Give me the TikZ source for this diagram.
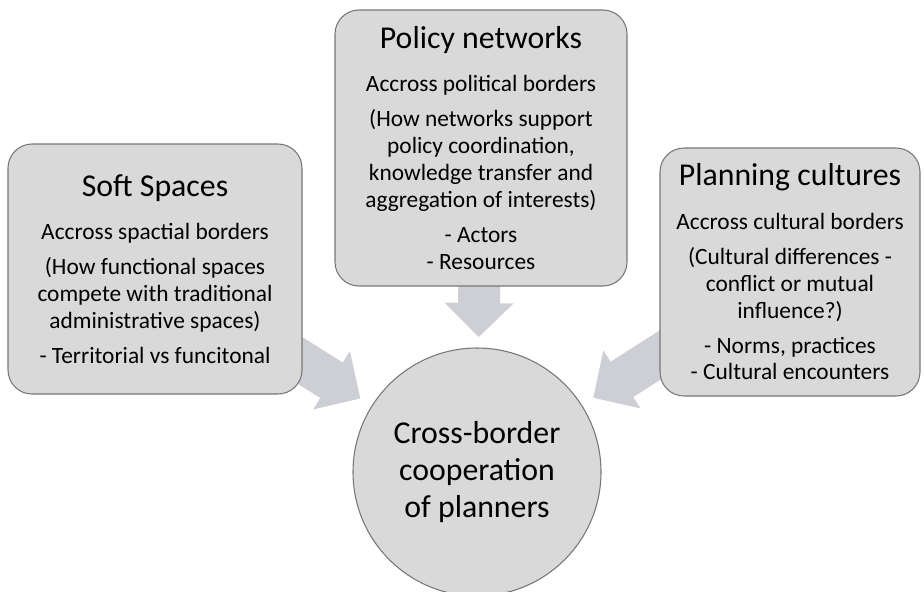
\documentclass[tikz,border=0pt]{standalone}
\usepackage{fontspec}
\setmainfont{Carlito}
\usetikzlibrary{calc,backgrounds}
\definecolor{boxgray}{RGB}{217,217,217}
\definecolor{linegray}{RGB}{118,118,118}
\definecolor{arrowgray}{RGB}{206,207,212}
\newcommand{\ttlfont}{\fontsize{18.1pt}{21pt}\selectfont}
\newcommand{\txtfont}{\fontsize{13.3pt}{15.3pt}\selectfont}
% wide block arrow from a node (#1) to a tip coordinate (#2)
\newcommand{\blockarrow}[2]{%
  \coordinate (ba) at ($(#2)!0.68cm!(#1)$);
  \fill[arrowgray] ($(#1)!0.42cm!90:(#2)$) -- ($(ba)!0.42cm!90:(#2)$)
    -- ($(ba)!0.69cm!90:(#2)$) -- (#2) -- ($(ba)!0.69cm!-90:(#2)$)
    -- ($(ba)!0.42cm!-90:(#2)$) -- ($(#1)!0.42cm!-90:(#2)$) -- cycle;}

\begin{document}
\begin{tikzpicture}[
  x=1cm, y=1cm,
  box/.style={draw=linegray, line width=0.6pt, fill=boxgray, rounded corners=0.48cm,
    inner sep=0pt, align=center, font=\txtfont},
  hub/.style={circle, draw=linegray, line width=0.6pt, fill=boxgray, minimum size=4.96cm,
    inner sep=0pt, align=center, font=\ttlfont}]
  \useasboundingbox (0,0) rectangle (18.48,11.82);

  % boxes
  \node[box, minimum width=5.88cm, minimum height=5.00cm] (soft) at (3.10,6.44)
    {{\ttlfont Soft Spaces}\\[9.4pt]
     Accross spactial borders\\[4.6pt]
     (How functional spaces\\ compete with traditional\\ administrative spaces)\\[4.6pt]
     - Territorial vs funcitonal};
  \node[box, minimum width=5.84cm, minimum height=5.52cm] (policy) at (9.62,8.86)
    {{\ttlfont Policy networks}\\[9.4pt]
     Accross political borders\\[4.6pt]
     (How networks support\\ policy coordination,\\ knowledge transfer and\\ aggregation of interests)\\[4.6pt]
     - Actors\\ - Resources};
  \node[box, minimum width=5.20cm, minimum height=4.96cm] (cult) at (15.80,6.38)
    {{\ttlfont Planning cultures}\\[9.4pt]
     Accross cultural borders\\[4.6pt]
     (Cultural differences -\\ conflict or mutual\\ influence?)\\[4.6pt]
     - Norms, practices\\ - Cultural encounters};

  % centre
  \node[hub] (coop) at (9.54,2.38) {Cross-border\\ cooperation\\ of planners};

  % arrow tips, just short of the circle
  \coordinate (tipsoft)   at ($(coop.center)!2.76cm!(soft.center)$);
  \coordinate (tippolicy) at ($(coop.center)!2.70cm!(policy.center)$);
  \coordinate (tipcult)   at ($(coop.center)!2.76cm!(cult.center)$);

  % arrows, behind the boxes
  \begin{scope}[on background layer]
    \blockarrow{soft.center}{tipsoft}
    \blockarrow{policy.center}{tippolicy}
    \blockarrow{cult.center}{tipcult}
  \end{scope}
\end{tikzpicture}
\end{document}
